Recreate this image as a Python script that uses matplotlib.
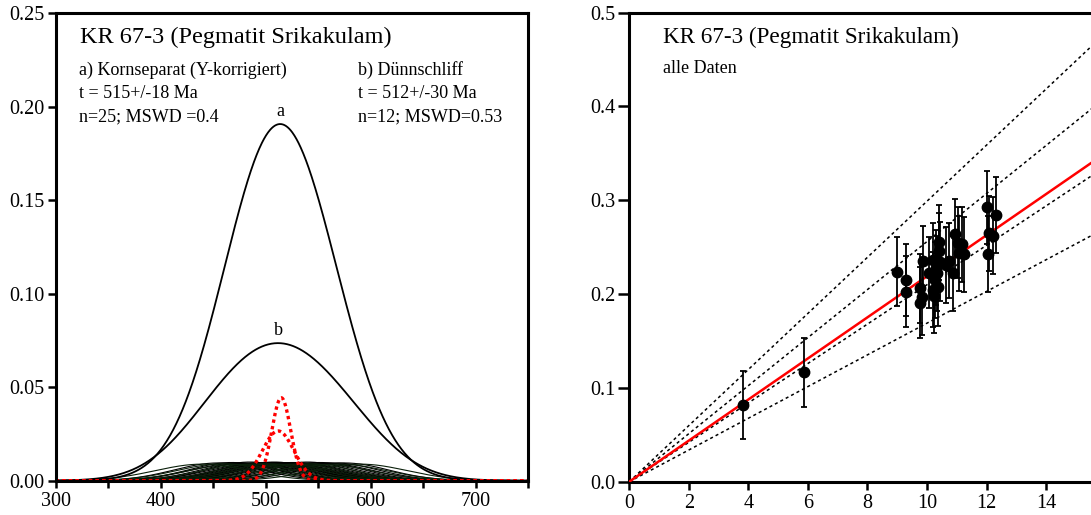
import numpy as np
import matplotlib
matplotlib.use("Agg")
import matplotlib.pyplot as plt
from matplotlib.ticker import MultipleLocator, FormatStrFormatter

plt.rcParams['font.family'] = ['Liberation Serif', 'DejaVu Serif']

# Left panel: single grain ages (Ma) and 1 sigma errors
a_ages = [455, 468, 472, 480, 485, 490, 495, 498, 502, 505, 508, 511, 514,
          516, 519, 522, 526, 530, 534, 540, 546, 552, 558, 565, 575]
a_sig = [42, 41, 43, 42, 40, 44, 42, 41, 43, 42, 40, 42, 41,
         43, 42, 44, 41, 42, 43, 40, 42, 41, 43, 42, 42]
b_ages = [440, 460, 472, 485, 498, 508, 518, 528, 540, 555, 570, 590]
b_sig = [45, 44, 46, 45, 44, 45, 46, 45, 44, 46, 45, 45]
# weighted mean ages with 2 sigma
mean_a, err_a = 515, 18
mean_b, err_b = 512, 30

# Right panel: isochron data
x_pts = [3.83, 5.87, 8.98, 9.29, 9.29, 9.77, 9.88, 9.84, 9.77, 10.08, 10.19,
         10.42, 10.44, 10.33, 10.27, 10.21, 10.36, 10.30, 10.75, 10.64, 10.87,
         10.94, 11.03, 11.17, 11.09, 11.25, 12.01, 12.31, 12.08, 12.23, 12.06,
         10.24, 10.40]
y_pts = [0.0818, 0.1166, 0.224, 0.215, 0.2026, 0.206, 0.2353, 0.1966, 0.1908,
         0.2228, 0.2363, 0.246, 0.2345, 0.2222, 0.215, 0.2044, 0.2079, 0.228,
         0.2353, 0.231, 0.2222, 0.2637, 0.2548, 0.2531, 0.2435, 0.2427, 0.2925,
         0.2843, 0.2648, 0.2623, 0.2427, 0.198, 0.255]
y_err = [0.036, 0.037, 0.037, 0.038, 0.038, 0.037, 0.037, 0.040, 0.038, 0.038,
         0.040, 0.040, 0.042, 0.040, 0.041, 0.040, 0.042, 0.040, 0.040, 0.041,
         0.040, 0.038, 0.038, 0.040, 0.040, 0.040, 0.039, 0.040, 0.040, 0.041,
         0.041, 0.040, 0.040]
slope_fit = 0.0219
slopes_env = [0.0299, 0.0256, 0.0210, 0.0169]

text_a = ['a) Kornseparat (Y-korrigiert)', 't = 515+/-18 Ma', 'n=25; MSWD =0.4']
text_b = ['b) Dünnschliff', 't = 512+/-30 Ma', 'n=12; MSWD=0.53']


def gauss(x, mu, s):
    return np.exp(-0.5 * ((x - mu) / s) ** 2) / (s * np.sqrt(2 * np.pi))


fig = plt.figure(figsize=(10.91, 5.15), dpi=100)

# --- left: probability density plot
ax1 = fig.add_axes([0.0509, 0.0666, 0.4331, 0.9082])
t = np.linspace(300, 750, 901)
for m, s in zip(a_ages, a_sig):
    ax1.plot(t, gauss(t, m, s), color='black', lw=0.8)
for m, s in zip(b_ages, b_sig):
    ax1.plot(t, gauss(t, m, s), color='#0a1f0a', lw=0.8)
sum_a = sum(gauss(t, m, s) for m, s in zip(a_ages, a_sig))
sum_b = sum(gauss(t, m, s) for m, s in zip(b_ages, b_sig))
ax1.plot(t, sum_a, color='black', lw=1.3)
ax1.plot(t, sum_b, color='black', lw=1.3)
ax1.plot(t, gauss(t, mean_a, err_a / 2), color='red', lw=2.4, ls=(0, (1, 1)))
ax1.plot(t, gauss(t, mean_b, err_b / 2), color='red', lw=2.4, ls=(0, (1, 1)))
ax1.text(t[np.argmax(sum_a)], sum_a.max() + 0.002, 'a', ha='center', va='bottom', fontsize=13)
ax1.text(t[np.argmax(sum_b)], sum_b.max() + 0.002, 'b', ha='center', va='bottom', fontsize=13)

ax1.set_xlim(300, 750)
ax1.set_ylim(0, 0.25)
ax1.xaxis.set_major_locator(MultipleLocator(100))
ax1.xaxis.set_minor_locator(MultipleLocator(50))
ax1.yaxis.set_major_locator(MultipleLocator(0.05))
ax1.yaxis.set_major_formatter(FormatStrFormatter('%.2f'))
ax1.tick_params(axis='both', which='both', direction='out', width=1.8, labelsize=14.5)
ax1.tick_params(axis='x', which='both', length=5, pad=3)
ax1.tick_params(axis='y', length=6, pad=2)
for sp in ax1.spines.values():
    sp.set_linewidth(2.2)

ax1.text(0.052, 0.948, 'KR 67-3 (Pegmatit Srikakulam)', transform=ax1.transAxes,
         fontsize=17.5, va='center')
for i, (la, lb) in enumerate(zip(text_a, text_b)):
    yy = 0.878 - i * 0.05
    ax1.text(0.05, yy, la, transform=ax1.transAxes, fontsize=13, va='center')
    ax1.text(0.64, yy, lb, transform=ax1.transAxes, fontsize=13, va='center')

# --- right: isochron plot
ax2 = fig.add_axes([0.5768, 0.0647, 0.4366, 0.9107])
xl = np.array([0, 16])
for s in slopes_env:
    ax2.plot(xl, s * xl, color='black', lw=1.1, ls=(0, (2, 2)))
ax2.plot(xl, slope_fit * xl, color='red', lw=1.8, zorder=3)
ax2.errorbar(x_pts, y_pts, yerr=y_err, fmt='o', color='black', ms=7.5,
             elinewidth=1.3, capsize=2.5, capthick=1.3, zorder=4)

ax2.set_xlim(0, 16)
ax2.set_ylim(0, 0.5)
ax2.set_xticks(range(0, 16, 2))
ax2.yaxis.set_major_locator(MultipleLocator(0.1))
ax2.yaxis.set_major_formatter(FormatStrFormatter('%.1f'))
ax2.tick_params(axis='both', direction='out', width=1.8, labelsize=14.5)
ax2.tick_params(axis='x', length=6, pad=3)
ax2.tick_params(axis='y', length=8, pad=2)
for sp in ax2.spines.values():
    sp.set_linewidth(2.2)

ax2.text(0.07, 0.948, 'KR 67-3 (Pegmatit Srikakulam)', transform=ax2.transAxes,
         fontsize=16.7, va='center')
ax2.text(0.07, 0.88, 'alle Daten', transform=ax2.transAxes, fontsize=13, va='center')

fig.savefig('out.png', dpi=100)
